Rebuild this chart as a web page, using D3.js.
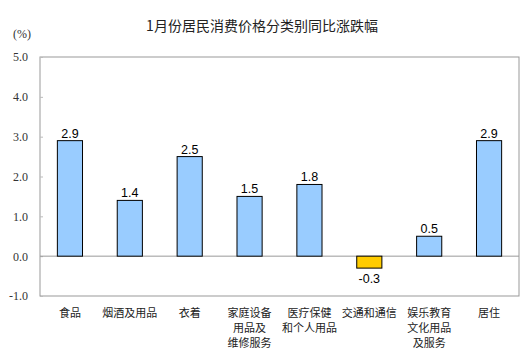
<!DOCTYPE html>
<html>
<head>
<meta charset="utf-8">
<script src="https://cdn.jsdelivr.net/npm/d3@7"></script>
<style>
  body { margin: 0; background: #fff; }
  svg { display: block; }
</style>
</head>
<body>
<div id="chart"></div>
<script>
const categories = [
  ['食品'],
  ['烟酒及用品'],
  ['衣着'],
  ['家庭设备', '用品及', '维修服务'],
  ['医疗保健', '和个人用品'],
  ['交通和通信'],
  ['娱乐教育', '文化用品', '及服务'],
  ['居住']
];
const values = [2.9, 1.4, 2.5, 1.5, 1.8, -0.3, 0.5, 2.9];
const yTicks = [-1, 0, 1, 2, 3, 4, 5];

const width = 531, height = 361;
const margin = { top: 57, right: 12, bottom: 65, left: 40 };
const innerW = width - margin.left - margin.right;
const innerH = height - margin.top - margin.bottom;

// plain hyphen instead of d3's unicode minus
const fmt = d => d.toFixed(1);

const svg = d3.select('#chart')
  .append('svg')
  .attr('width', width)
  .attr('height', height);

svg.append('text')
  .attr('x', 262)
  .attr('y', 31)
  .attr('text-anchor', 'middle')
  .style('font-family', '"Noto Sans CJK SC", sans-serif')
  .style('font-size', '14px')
  .style('fill', '#222')
  .text('1月份居民消费价格分类别同比涨跌幅');

svg.append('text')
  .attr('x', 13)
  .attr('y', 38)
  .style('font-family', '"Liberation Serif", serif')
  .style('font-size', '12px')
  .style('fill', '#333')
  .text('(%)');

const g = svg.append('g')
  .attr('transform', `translate(${margin.left},${margin.top})`);

const x = d3.scaleBand()
  .domain(d3.range(categories.length))
  .range([0, innerW])
  .paddingInner(0.58)
  .paddingOuter(0.29);

const y = d3.scaleLinear()
  .domain([-1, 5])
  .range([innerH, 0]);

// plot frame
g.append('rect')
  .attr('x', 0)
  .attr('y', 0)
  .attr('width', innerW)
  .attr('height', innerH)
  .attr('fill', 'none')
  .attr('stroke', '#999');

const yAxis = g.append('g')
  .call(d3.axisLeft(y).tickValues(yTicks).tickFormat(fmt).tickSize(-3).tickPadding(12));
yAxis.select('.domain').remove();
yAxis.selectAll('line').attr('stroke', '#bbb');
yAxis.selectAll('text')
  .style('font-family', '"Liberation Serif", serif')
  .style('font-size', '12px')
  .style('fill', '#333');

// zero line
g.append('line')
  .attr('x1', 0)
  .attr('x2', innerW)
  .attr('y1', y(0))
  .attr('y2', y(0))
  .attr('stroke', '#999');

g.selectAll('.bar')
  .data(values)
  .enter()
  .append('rect')
  .attr('class', 'bar')
  .attr('x', (d, i) => x(i))
  .attr('width', x.bandwidth())
  .attr('y', d => y(Math.max(0, d)))
  .attr('height', d => Math.abs(y(d) - y(0)))
  .attr('fill', d => d < 0 ? '#FFCC00' : '#99CCFF')
  .attr('stroke', '#000')
  .attr('stroke-width', 1);

g.selectAll('.val')
  .data(values)
  .enter()
  .append('text')
  .attr('class', 'val')
  .attr('x', (d, i) => x(i) + x.bandwidth() / 2)
  .attr('y', d => d < 0 ? y(d) + 15 : y(d) - 3)
  .attr('text-anchor', 'middle')
  .style('font-family', '"Liberation Sans", Arial, sans-serif')
  .style('font-size', '12.5px')
  .style('fill', '#000')
  .text(fmt);

const labels = g.selectAll('.cat')
  .data(categories)
  .enter()
  .append('text')
  .attr('class', 'cat')
  .attr('text-anchor', 'middle')
  .style('font-family', '"Noto Sans CJK SC", sans-serif')
  .style('font-size', '11px')
  .style('fill', '#222');

labels.selectAll('tspan')
  .data((d, i) => d.map(line => ({ line, i })))
  .enter()
  .append('tspan')
  .attr('x', d => x(d.i) + x.bandwidth() / 2)
  .attr('y', (d, j) => innerH + 21 + j * 15)
  .text(d => d.line);
</script>
</body>
</html>
